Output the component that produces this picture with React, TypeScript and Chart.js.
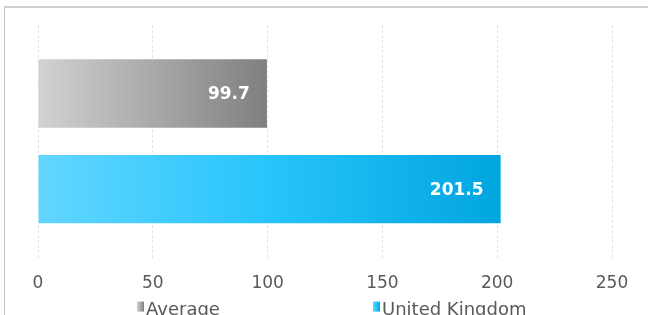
import React, { useEffect, useRef } from "react";
import { Chart, registerables } from "chart.js";

Chart.register(...registerables);

const categories: string[] = [""];
const seriesNames: string[] = ["Average", "United Kingdom"];
const averageValues: number[] = [99.7];
const ukValues: number[] = [201.5];
const xTicks: number[] = [0, 50, 100, 150, 200, 250];

const averageStops: string[] = ["#d2d2d2", "#a9a9a9", "#7f7f7f"];
const ukStops: string[] = ["#62d6ff", "#27c4fb", "#00a5df"];

const FONT = "'DejaVu Sans', sans-serif";

function makeGradient(chart: any, stops: string[], from: number, to: number) {
  const g = chart.ctx.createLinearGradient(from, 0, to, 0);
  stops.forEach((c, i) => g.addColorStop(i / (stops.length - 1), c));
  return g;
}

function barFill(stops: string[]) {
  return (ctx: any) => {
    const chart = ctx.chart;
    if (!chart.chartArea || ctx.dataIndex === undefined) return stops[stops.length - 1];
    const v = ctx.dataset.data[ctx.dataIndex];
    const xs = chart.scales.x;
    const x0 = xs.getPixelForValue(0);
    const x1 = xs.getPixelForValue(v);
    if (!isFinite(x0) || !isFinite(x1) || x1 <= x0) return stops[stops.length - 1];
    return makeGradient(chart, stops, x0, x1);
  };
}

const valueLabels = {
  id: "valueLabels",
  afterDatasetsDraw(chart: any) {
    const ctx = chart.ctx;
    ctx.save();
    ctx.fillStyle = "#ffffff";
    ctx.font = `bold 17px ${FONT}`;
    ctx.textAlign = "right";
    ctx.textBaseline = "middle";
    chart.data.datasets.forEach((ds: any, i: number) => {
      const meta = chart.getDatasetMeta(i);
      meta.data.forEach((el: any, j: number) => {
        const v = ds.data[j];
        ctx.fillText(Number(v).toFixed(1), el.x - 17, el.y + 1);
      });
    });
    ctx.restore();
  },
};

const customLegend = {
  id: "customLegend",
  afterDraw(chart: any) {
    const ctx = chart.ctx;
    const area = chart.chartArea;
    const center = (area.left + area.right) / 2;
    const entryW = area.width * 0.4115;
    const baseY = area.bottom + 57;
    const stopsList = [averageStops, ukStops];
    ctx.save();
    ctx.font = `18px ${FONT}`;
    ctx.textBaseline = "alphabetic";
    ctx.textAlign = "left";
    chart.data.datasets.forEach((ds: any, i: number) => {
      const left = center - entryW + i * entryW;
      const bx = Math.round(left + entryW * 0.2034);
      ctx.fillStyle = makeGradient(chart, stopsList[i], bx, bx + 7);
      ctx.fillRect(bx, baseY - 13, 7, 10);
      ctx.fillStyle = "#595959";
      ctx.fillText(ds.label, bx + 9, baseY);
    });
    ctx.restore();
  },
};

export default function App() {
  const ref = useRef<HTMLCanvasElement | null>(null);

  useEffect(() => {
    document.documentElement.style.overflow = "hidden";
    document.body.style.margin = "0";
    document.body.style.overflow = "hidden";
    const canvas = ref.current;
    if (!canvas) return;
    const chart = new Chart(canvas, {
      type: "bar",
      data: {
        labels: categories,
        datasets: [
          {
            label: seriesNames[0],
            data: averageValues,
            backgroundColor: barFill(averageStops),
            borderWidth: 0,
            categoryPercentage: 0.8225,
            barPercentage: 0.716,
          },
          {
            label: seriesNames[1],
            data: ukValues,
            backgroundColor: barFill(ukStops),
            borderWidth: 0,
            categoryPercentage: 0.8225,
            barPercentage: 0.716,
          },
        ],
      },
      options: {
        indexAxis: "y",
        responsive: false,
        animation: false,
        devicePixelRatio: 1,
        layout: { padding: { left: 38, right: 36, top: 25, bottom: 30 } },
        plugins: {
          legend: { display: false },
          tooltip: { enabled: false },
          title: { display: false },
        },
        scales: {
          x: {
            type: "linear",
            min: xTicks[0],
            max: xTicks[xTicks.length - 1],
            afterBuildTicks: (scale: any) => {
              scale.ticks = xTicks.map((v) => ({ value: v }));
            },
            grid: { color: "#e3e3e3", lineWidth: 1, drawTicks: false },
            border: { display: false, dash: [3, 2] },
            ticks: {
              padding: 16,
              color: "#595959",
              font: { family: FONT, size: 17 },
            },
          },
          y: { display: false },
        },
      },
      plugins: [valueLabels, customLegend],
    });
    return () => chart.destroy();
  }, []);

  return (
    <div style={{ position: "relative", width: 648, height: 315, overflow: "hidden", background: "#fff" }}>
      <div
        style={{
          position: "absolute",
          left: 4,
          top: 6,
          width: 700,
          height: 400,
          borderLeft: "1px solid #c4c4c4",
          borderTop: "2px solid #d0d0d0",
          boxSizing: "border-box",
        }}
      />
      <canvas ref={ref} width={648} height={340} style={{ position: "absolute", left: 0, top: 0 }} />
    </div>
  );
}
